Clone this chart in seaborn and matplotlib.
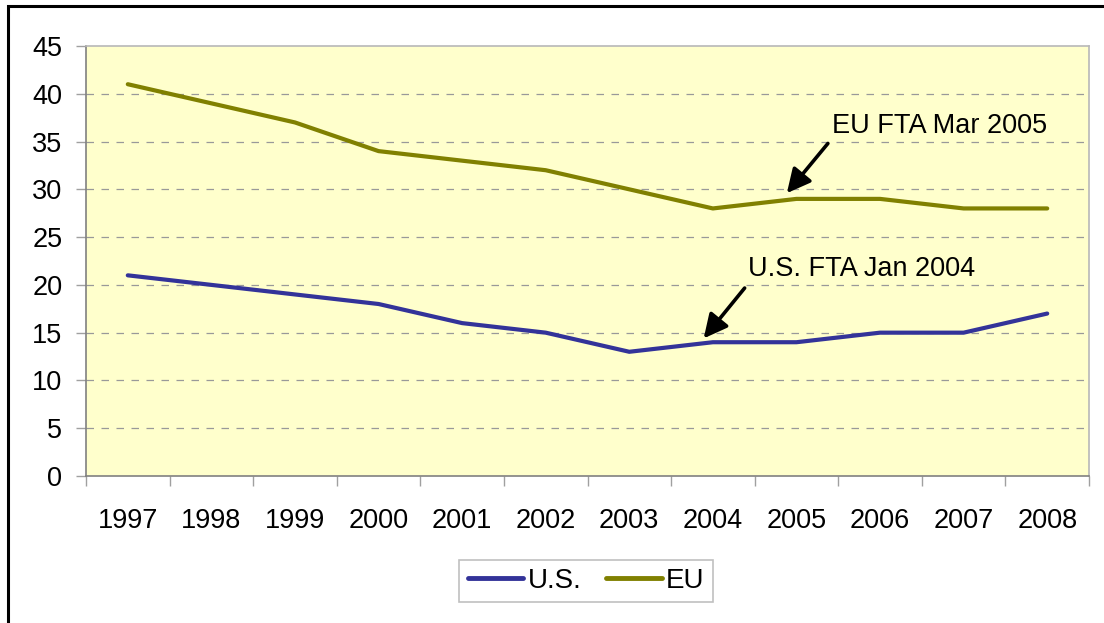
import pandas as pd
import numpy as np
import matplotlib
matplotlib.use("Agg")
import matplotlib.pyplot as plt
from matplotlib.patches import Rectangle
import seaborn as sns

sns.set_theme(style="white")
plt.rcParams['font.family'] = ['Liberation Sans', 'DejaVu Sans']
plt.rcParams['text.color'] = 'black'

# data
years = [1997, 1998, 1999, 2000, 2001, 2002, 2003, 2004, 2005, 2006, 2007, 2008]
us_vals = [21, 20, 19, 18, 16, 15, 13, 14, 14, 15, 15, 17]
eu_vals = [41, 39, 37, 34, 33, 32, 30, 28, 29, 29, 28, 28]
series_names = ["U.S.", "EU"]
colors = {"U.S.": "#333399", "EU": "#808000"}

df = pd.concat([
    pd.DataFrame({"year": years, "value": us_vals, "series": "U.S."}),
    pd.DataFrame({"year": years, "value": eu_vals, "series": "EU"}),
])

fig = plt.figure(figsize=(11.04, 6.23), dpi=100)
ax = fig.add_axes([86/1104, 1-476/623, (1089-86)/1104, (476-46)/623])
ax.set_facecolor("#FFFFCC")

sns.lineplot(data=df, x="year", y="value", hue="series", hue_order=series_names,
             palette=colors, linewidth=3, ax=ax, legend=False)

ax.set_xlim(1996.5, 2008.5)
ax.set_ylim(0, 45)
ax.set_yticks(range(0, 46, 5))
ax.set_xticks(years)
ax.set_xticklabels([str(y) for y in years])
ax.set_xticks(np.arange(1996.5, 2009, 1), minor=True)
ax.tick_params(axis="x", which="major", length=0, pad=23, labelsize=19.5, labelcolor="black")
ax.tick_params(axis="x", which="minor", length=7, width=1, color="#a0a0a0", direction="out", bottom=True)
ax.tick_params(axis="y", length=7, width=1, color="#a0a0a0", direction="out", pad=10,
               labelsize=19.5, labelcolor="black", left=True)
ax.set_xlabel("")
ax.set_ylabel("")

# dashed grid
for v in range(5, 45, 5):
    ax.axhline(v, color="#999999", lw=0.9, linestyle=(0, (6, 6)), zorder=0.5)

for s in ["left", "bottom"]:
    ax.spines[s].set_color("#808080")
    ax.spines[s].set_linewidth(1.2)
for s in ["top", "right"]:
    ax.spines[s].set_color("#b8b8b8")
    ax.spines[s].set_linewidth(1.2)

# annotations
arrow = dict(arrowstyle="-|>", lw=2.6, color="black", mutation_scale=36, shrinkA=0, shrinkB=0)
ax.annotate("", xy=(2004.885, 29.6), xytext=(2005.376, 34.8), arrowprops=arrow)
ax.text(2005.42, 36.6, "EU FTA Mar 2005", fontsize=19.5, va="center", ha="left", color="black")
ax.annotate("", xy=(2003.89, 14.4), xytext=(2004.38, 19.67), arrowprops=arrow)
ax.text(2004.42, 21.65, "U.S. FTA Jan 2004", fontsize=19.5, va="center", ha="left", color="black")

# legend
handles = [plt.Line2D([], [], color=colors[n], lw=3.5) for n in series_names]
leg = fig.legend(handles, series_names, loc="center", bbox_to_anchor=(586/1104, 1-581/623),
                 ncol=2, fontsize=20, frameon=True, fancybox=False, handlelength=2.0,
                 handletextpad=0.15, columnspacing=0.9, borderpad=0.3, labelcolor="black")
leg.get_frame().set_edgecolor("#b0b0b0")
leg.get_frame().set_linewidth(1.2)

# outer border (top and left visible)
fig.patches.append(Rectangle((7.5/1104, -0.2), 1.2, 1.2 - 5.7/623, transform=fig.transFigure,
                             fill=False, edgecolor="black", lw=2.2, clip_on=False))

fig.savefig("out.png", dpi=100)
